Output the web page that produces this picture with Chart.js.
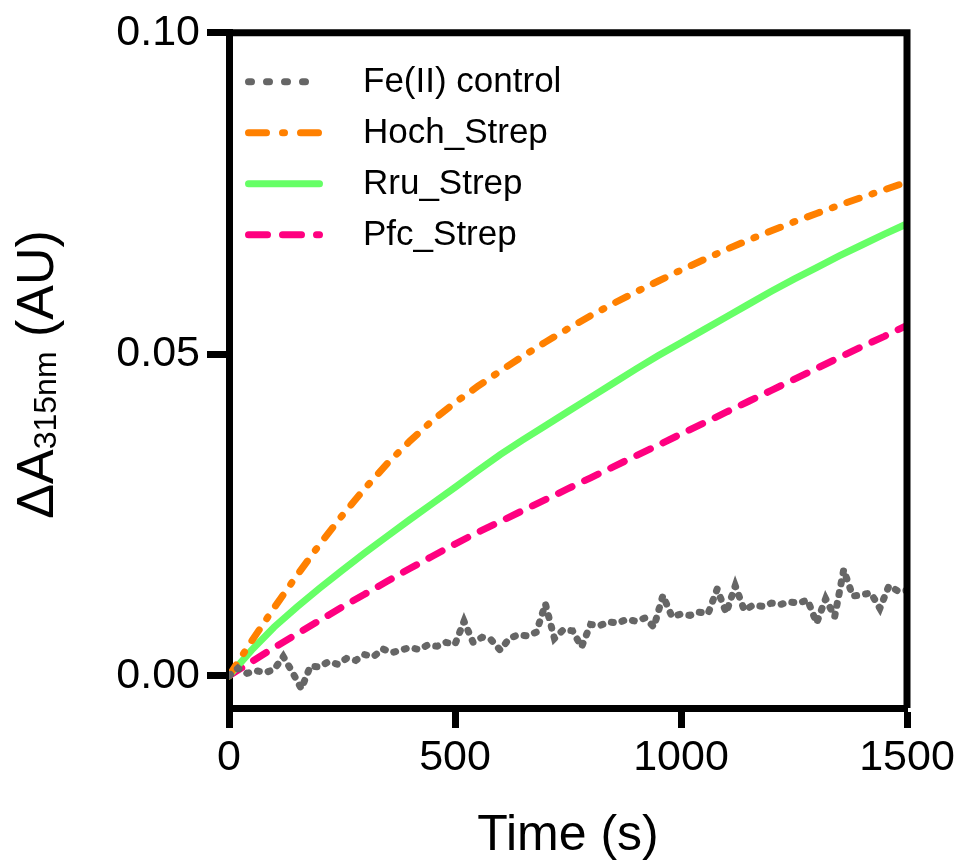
<!DOCTYPE html>
<html>
<head>
<meta charset="utf-8">
<script src="https://cdn.jsdelivr.net/npm/chart.js@4.4.1/dist/chart.umd.min.js"></script>
<style>
    html, body { margin: 0; padding: 0; background: #fff; }
    #wrap { width: 962px; height: 866px; position: relative; }
</style>
</head>
<body>
<div id="wrap"><canvas id="chart"></canvas></div>
<script>
// Fe(II) control is sampled every 20 s, the enzyme traces every 50 s
const feTime = [
    0, 20, 40, 60, 80, 100, 120, 140, 160, 180,
    200, 220, 240, 260, 280, 300, 320, 340, 360, 380,
    400, 420, 440, 460, 480, 500, 520, 540, 560, 580,
    600, 620, 640, 660, 680, 700, 720, 740, 760, 780,
    800, 820, 840, 860, 880, 900, 920, 940, 960, 980,
    1000, 1020, 1040, 1060, 1080, 1100, 1120, 1140, 1160, 1180,
    1200, 1220, 1240, 1260, 1280, 1300, 1320, 1340, 1360, 1380,
    1400, 1420, 1440, 1460, 1480, 1500
];
const feValues = [
    0.0000, 0.0012, 0.0004, 0.0008, 0.0005, 0.0010, 0.0030, 0.0006, -0.0020, 0.0015,
    0.0014, 0.0022, 0.0018, 0.0027, 0.0024, 0.0033, 0.0030, 0.0042, 0.0036, 0.0040,
    0.0044, 0.0041, 0.0048, 0.0046, 0.0052, 0.0049, 0.0085, 0.0052, 0.0060, 0.0056,
    0.0040, 0.0058, 0.0064, 0.0062, 0.0068, 0.0112, 0.0058, 0.0072, 0.0070, 0.0045,
    0.0080, 0.0078, 0.0084, 0.0082, 0.0088, 0.0085, 0.0090, 0.0076, 0.0125, 0.0092,
    0.0096, 0.0094, 0.0099, 0.0097, 0.0135, 0.0098, 0.0140, 0.0102, 0.0110, 0.0108,
    0.0113, 0.0111, 0.0115, 0.0113, 0.0118, 0.0082, 0.0120, 0.0092, 0.0165, 0.0124,
    0.0126, 0.0129, 0.0105, 0.0140, 0.0132, 0.0133
];

const stepTime = [
    0, 50, 100, 150, 200, 250, 300, 350, 400, 450,
    500, 550, 600, 650, 700, 750, 800, 850, 900, 950,
    1000, 1050, 1100, 1150, 1200, 1250, 1300, 1350, 1400, 1450, 1500
];
const hochValues = [
    0.0000, 0.0054, 0.0106, 0.0156, 0.0204, 0.0249, 0.0291, 0.0330, 0.0365, 0.0397,
    0.0425, 0.0450, 0.0474, 0.0497, 0.0519, 0.0540, 0.0560, 0.0579, 0.0597, 0.0614,
    0.0631, 0.0647, 0.0663, 0.0678, 0.0692, 0.0706, 0.0719, 0.0732, 0.0744, 0.0756, 0.0768
];
const rruValues = [
    0.0000, 0.0040, 0.0076, 0.0107, 0.0136, 0.0164, 0.0191, 0.0217, 0.0243, 0.0268,
    0.0293, 0.0319, 0.0344, 0.0367, 0.0389, 0.0411, 0.0433, 0.0455, 0.0477, 0.0498,
    0.0518, 0.0538, 0.0558, 0.0578, 0.0598, 0.0617, 0.0635, 0.0653, 0.0670, 0.0687, 0.0703
];
const pfcValues = [
    0.0000, 0.0022, 0.0044, 0.0065, 0.0086, 0.0107, 0.0127, 0.0147, 0.0167, 0.0186,
    0.0205, 0.0223, 0.0240, 0.0257, 0.0274, 0.0291, 0.0308, 0.0325, 0.0342, 0.0359,
    0.0376, 0.0393, 0.0410, 0.0427, 0.0444, 0.0461, 0.0478, 0.0495, 0.0512, 0.0528, 0.0545
];

const seriesNames = ['Fe(II) control', 'Hoch_Strep', 'Rru_Strep', 'Pfc_Strep'];
const xTicks = [0, 500, 1000, 1500];
const yTicks = [0, 0.05, 0.10];
const yTickLabels = ['0.00', '0.05', '0.10'];

const FONT = '"Liberation Sans", Arial, Helvetica, sans-serif';
Chart.defaults.font.family = FONT;
Chart.defaults.color = '#000';

function pts(t, v) { return t.map((x, i) => ({ x: x, y: v[i] })); }

// legend dashes are longer than the ones along the traces
const legendDash = [[3, 15], [18, 16, 2, 16], [], [19, 15, 19, 15, 3, 15]];

function line(label, data, color, dash) {
    return {
        label: label,
        data: data,
        borderColor: color,
        backgroundColor: color,
        borderWidth: 7,
        borderDash: dash,
        borderCapStyle: 'round',
        borderJoinStyle: 'miter',
        pointRadius: 0,
        tension: 0,
        fill: false
    };
}

// legend drawn inside the plot, top left
const insideLegend = {
    id: 'insideLegend',
    afterDatasetsDraw(chart) {
        const { ctx, chartArea: a } = chart;
        ctx.save();
        chart.data.datasets.forEach((ds, i) => {
            const y = a.top + 49 + i * 51;
            ctx.strokeStyle = ds.borderColor;
            ctx.lineWidth = ds.borderWidth;
            ctx.lineCap = 'round';
            ctx.setLineDash(legendDash[i]);
            ctx.beginPath();
            ctx.moveTo(a.left + 19.5, y);
            ctx.lineTo(a.left + 90.5, y);
            ctx.stroke();
            ctx.setLineDash([]);
            ctx.fillStyle = '#000';
            ctx.font = '35px ' + FONT;
            ctx.textBaseline = 'middle';
            ctx.textAlign = 'left';
            ctx.fillText(ds.label, a.left + 134, y + 1);
        });
        ctx.restore();
    }
};

// top and right sides of the box
const frame = {
    id: 'frame',
    afterDatasetsDraw(chart) {
        const { ctx, chartArea: a } = chart;
        ctx.save();
        ctx.strokeStyle = '#000';
        ctx.lineWidth = 7;
        ctx.lineJoin = 'miter';
        ctx.beginPath();
        ctx.moveTo(a.left, a.top);
        ctx.lineTo(a.right, a.top);
        ctx.lineTo(a.right, a.bottom);
        ctx.stroke();
        ctx.restore();
    }
};

// y title with subscript
const yTitle = {
    id: 'yTitle',
    afterDraw(chart) {
        const { ctx, chartArea: a } = chart;
        const big = '52px ' + FONT;
        const small = '32px ' + FONT;
        const parts = [['\u0394A', big, 0], ['315nm', small, 3], [' (AU)', big, 0]];
        ctx.save();
        let total = 0;
        parts.forEach(p => { ctx.font = p[1]; p.push(ctx.measureText(p[0]).width); total += p[3]; });
        const cy = (a.top + a.bottom) / 2 + 4;
        ctx.translate(53, cy + total / 2);
        ctx.rotate(-Math.PI / 2);
        ctx.fillStyle = '#000';
        ctx.textBaseline = 'alphabetic';
        ctx.textAlign = 'left';
        let x = 0;
        parts.forEach(p => { ctx.font = p[1]; ctx.fillText(p[0], x, p[2]); x += p[3]; });
        ctx.restore();
    }
};

new Chart(document.getElementById('chart').getContext('2d'), {
    type: 'line',
    data: {
        datasets: [
            line(seriesNames[0], pts(feTime, feValues), '#666666', [2, 9]),
            line(seriesNames[1], pts(stepTime, hochValues), '#ff8000', [13, 13.5, 2, 13.5]),
            line(seriesNames[2], pts(stepTime, rruValues), '#66ff66', []),
            line(seriesNames[3], pts(stepTime, pfcValues), '#ff0080', [15, 14])
        ]
    },
    options: {
        responsive: true,
        maintainAspectRatio: false,
        animation: false,
        layout: { padding: { top: 27, right: 55, bottom: 0, left: 0 } },
        plugins: {
            legend: { display: false },
            tooltip: { enabled: false }
        },
        scales: {
            x: {
                type: 'linear',
                min: 0,
                max: 1500,
                afterFit: s => { s.height = 158; },
                afterBuildTicks: s => { s.ticks = xTicks.map(v => ({ value: v })); },
                border: { display: true, color: '#000', width: 7 },
                grid: { drawOnChartArea: false, drawTicks: true, tickLength: 20, tickWidth: 7, tickColor: '#000' },
                ticks: { font: { size: 43 }, padding: 4, maxRotation: 0, callback: v => String(v) },
                title: { display: true, text: 'Time (s)', font: { size: 50 }, padding: { top: 0, bottom: 0 } }
            },
            y: {
                type: 'linear',
                min: -0.005,
                max: 0.10,
                afterFit: s => { s.width = 229; },
                afterBuildTicks: s => { s.ticks = yTicks.map(v => ({ value: v })); },
                border: { display: true, color: '#000', width: 7 },
                grid: { drawOnChartArea: false, drawTicks: true, tickLength: 22, tickWidth: 7, tickColor: '#000' },
                ticks: { font: { size: 43 }, padding: 7, callback: (v, i) => yTickLabels[i] }
            }
        }
    },
    plugins: [insideLegend, frame, yTitle]
});
</script>
</body>
</html>
